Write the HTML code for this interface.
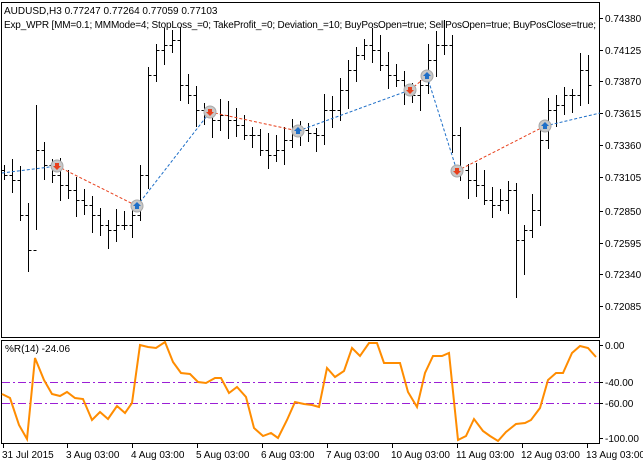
<!DOCTYPE html>
<html><head><meta charset="utf-8"><style>
body{margin:0;background:#fff;width:643px;height:464px;overflow:hidden;font-family:"Liberation Sans",sans-serif}
svg text{font-family:"Liberation Sans",sans-serif;font-size:10px;fill:#000}
</style></head><body>
<svg id="s" width="643" height="464" xmlns="http://www.w3.org/2000/svg">
<rect x="0" y="0" width="643" height="464" fill="#fff"/>
<rect x="1.5" y="2.5" width="598" height="335" fill="none" stroke="#000"/>
<rect x="1.5" y="340.5" width="598" height="103" fill="none" stroke="#000"/>
<g id="bars" stroke="#000" stroke-width="1" fill="none"></g>
<g fill="none" stroke-width="1" stroke-dasharray="3,2">
<polyline points="2,173 57,166" stroke="#1e6fc8"/>
<polyline points="57,166 137,206" stroke="#e8401c"/>
<polyline points="137,206 210,112" stroke="#1e6fc8"/>
<polyline points="210,112 298,131" stroke="#e8401c"/>
<polyline points="298,131 410,90" stroke="#1e6fc8"/>
<polyline points="410,90 427,76" stroke="#e8401c"/>
<polyline points="427,76 457,171" stroke="#1e6fc8"/>
<polyline points="457,171 545,126" stroke="#e8401c"/>
<polyline points="545,126 600,113" stroke="#1e6fc8"/>
</g>
<g id="sig"></g>
<line x1="2" y1="382.5" x2="599" y2="382.5" stroke="#9b1fd6" stroke-dasharray="8,3,2,3"/>
<line x1="2" y1="403.5" x2="599" y2="403.5" stroke="#9b1fd6" stroke-dasharray="8,3,2,3"/>
<polyline fill="none" stroke="#ff8c00" stroke-width="2" points="2,394 10,398 19,425 27,439 35,358 44,380 52,394 60,396 67,392 75,398 83,399 92,420 100,412 108,419 117,406 125,413 132,403 140,345 148,347 156,348 165,342 173,362 181,373 190,374 198,382 206,383 215,378 221,378 229,393 237,387 246,397 254,428 263,436 271,433 278,438 287,420 295,402 304,404 312,405 319,407 327,368 335,377 344,371 352,348 360,356 369,343 377,343 384,363 400,363 408,392 417,407 425,373 433,356 442,356 449,353 458,440 466,436 474,419 483,431 490,436 498,441 506,432 516,424 525,423 531,420 540,408 548,380 556,373 563,373 572,353 580,346 588,348 596,357"/>
<text x="4" y="14">AUDUSD,H3  0.77247 0.77264 0.77059 0.77103</text>
<text x="4" y="28" textLength="592">Exp_WPR [MM=0.1; MMMode=4; StopLoss_=0; TakeProfit_=0; Deviation_=10; BuyPosOpen=true; SellPosOpen=true; BuyPosClose=true;</text>
<text x="5" y="352">%R(14) -24.06</text>
<g id="ax"></g>
</svg>
<script>
var ns="http://www.w3.org/2000/svg";
function el(t,a,p){var e=document.createElementNS(ns,t);for(var k in a)e.setAttribute(k,a[k]);(p||document.getElementById('s')).appendChild(e);return e;}
var c=[175,180,215,250,150,165,175,185,190,200,205,215,225,230,225,225,215,175,75,50,45,40,85,95,110,115,120,115,120,125,135,135,150,155,150,140,130,130,133,135,110,110,90,70,55,45,50,65,75,80,90,95,85,60,45,45,135,170,180,185,200,205,200,190,240,230,210,140,110,105,95,95,70,85];
var g=document.getElementById('bars');var o=170;
for(var i=0;i<c.length;i++){var x=4+8*i+0.5;var cl=c[i];var r1=5+((i*37)%13),r2=5+((i*53)%15);
var h=Math.min(o,cl)-r1,l=Math.max(o,cl)+r2;if(i==4){h=105;l=230;}if(i==3)l=272;if(i==21)h=30;if(i==55)h=20;if(i==64)l=298;if(i==65)l=275;
el('line',{x1:x,y1:h,x2:x,y2:l},g);el('line',{x1:x-3,y1:o+.5,x2:x,y2:o+.5},g);el('line',{x1:x,y1:cl+.5,x2:x+3,y2:cl+.5},g);o=cl;}
var sg=document.getElementById('sig');
[[57,166,0],[137,206,1],[210,112,0],[298,131,1],[410,90,0],[427,76,1],[457,171,0],[545,126,1]].forEach(function(p){
el('circle',{cx:p[0],cy:p[1],r:6,fill:'#c8c8c8',stroke:'#a8a8a8'},sg);
var col=p[2]?'#1e6fc8':'#e8401c';
if(p[2])el('path',{d:'M'+p[0]+','+(p[1]-4)+' l4,4 h-2 v3 h-4 v-3 h-2z',fill:col},sg);
else el('path',{d:'M'+p[0]+','+(p[1]+4)+' l4,-4 h-2 v-3 h-4 v3 h-2z',fill:col},sg);});
var ax=document.getElementById('ax');
[["0.74380",18],["0.74125",50],["0.73870",81],["0.73615",113],["0.73360",145],["0.73105",177],["0.72850",211],["0.72595",243],["0.72340",274],["0.72085",306]].forEach(function(t){
el('line',{x1:600,y1:t[1]+.5,x2:603,y2:t[1]+.5,stroke:'#000'},ax);var e=el('text',{x:605,y:t[1]+4},ax);e.textContent=t[0];});
[["0.00",345],["-40.00",382],["-60.00",403],["-100.00",438]].forEach(function(t){
el('line',{x1:600,y1:t[1]+.5,x2:603,y2:t[1]+.5,stroke:'#000'},ax);var e=el('text',{x:605,y:t[1]+4},ax);e.textContent=t[0];});
[["31 Jul 2015",3],["3 Aug 03:00",67],["4 Aug 03:00",132],["5 Aug 03:00",197],["6 Aug 03:00",262],["7 Aug 03:00",327],["10 Aug 03:00",392],["11 Aug 03:00",457],["12 Aug 03:00",522],["13 Aug 03:00",587]].forEach(function(t){
el('line',{x1:t[1]+.5,y1:444,x2:t[1]+.5,y2:448,stroke:'#000'},ax);var e=el('text',{x:t[1]-1,y:458},ax);e.textContent=t[0];});
</script>
</body></html>
